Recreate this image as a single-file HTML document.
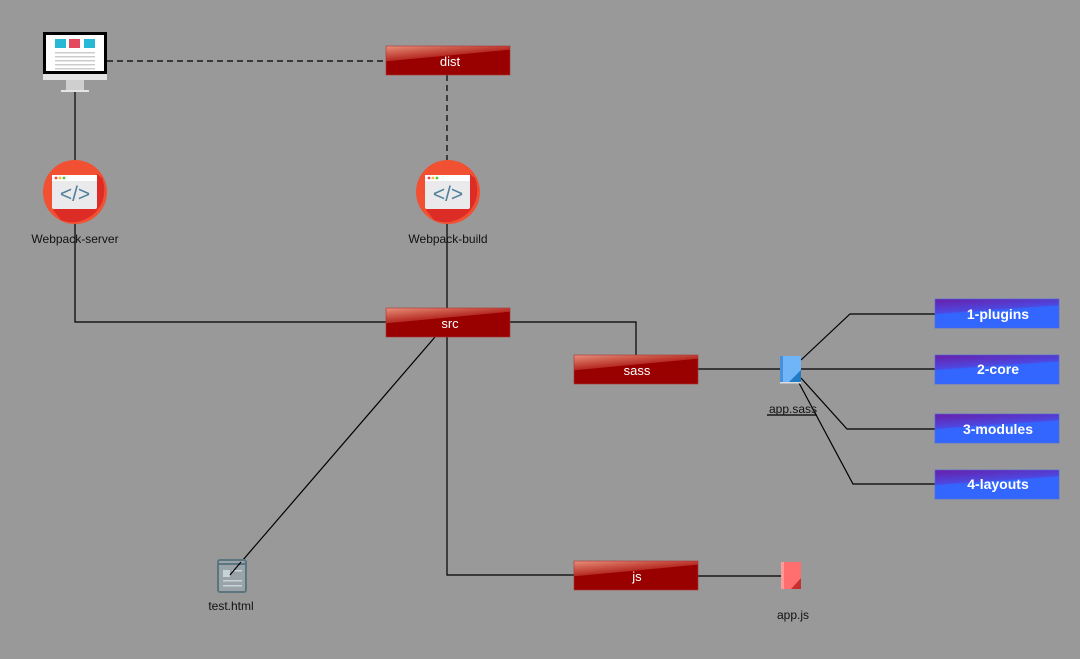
<!DOCTYPE html>
<html><head><meta charset="utf-8"><style>
html,body{margin:0;padding:0;background:#999999;}
svg{display:block;}
text{font-family:"Liberation Sans",sans-serif;}
</style></head><body>
<svg width="1080" height="659" viewBox="0 0 1080 659" xmlns="http://www.w3.org/2000/svg">
<defs>
<linearGradient id="rg" x1="0" y1="0" x2="0.4" y2="1">
<stop offset="0" stop-color="#e8907a"/><stop offset="0.45" stop-color="#b52a22"/><stop offset="0.46" stop-color="#990000"/><stop offset="1" stop-color="#990000"/>
</linearGradient>
<linearGradient id="bg" x1="0" y1="0" x2="0.3" y2="1">
<stop offset="0" stop-color="#6a1ea8"/><stop offset="0.45" stop-color="#4d48e0"/><stop offset="0.5" stop-color="#3366ff"/><stop offset="1" stop-color="#3366ff"/>
</linearGradient>
<g id="code">
<circle cx="0" cy="0" r="32" fill="#f25033"/>
<path d="M22,-18 L27,-14 A32,32 0 0 1 -14,28 L-22,18 Z" fill="#dd2c25"/>
<rect x="-23" y="-17" width="45" height="34" rx="2" fill="#eaeaec"/>
<rect x="-23" y="-17" width="45" height="6" fill="#fff"/>
<circle cx="-19" cy="-14" r="1.4" fill="#e44"/><circle cx="-15" cy="-14" r="1.4" fill="#fb3"/><circle cx="-11" cy="-14" r="1.4" fill="#4c4"/>
<text x="0" y="9" text-anchor="middle" font-size="21" fill="#4f7f99">&lt;/&gt;</text>
</g>
</defs>
<g stroke="#000" stroke-width="1.2" fill="none">
<line x1="107" y1="61" x2="386" y2="61" stroke-dasharray="6,4"/>
<line x1="447" y1="75" x2="447" y2="160" stroke-dasharray="6,4"/>
<line x1="75" y1="92" x2="75" y2="160"/>
<polyline points="75,224 75,322 386,322"/>
<line x1="447" y1="224" x2="447" y2="308"/>
<polyline points="510,322 636,322 636,355"/>
<line x1="698" y1="369" x2="781" y2="369"/>
<polyline points="801,360 850,314 935,314"/>
<line x1="801" y1="369" x2="935" y2="369"/>
<polyline points="801,378 847,429 935,429"/>
<polyline points="799,383 853,484 935,484"/>
<polyline points="447,337 447,575 574,575"/>
<line x1="698" y1="576" x2="782" y2="576"/>
<line x1="435" y1="337" x2="230" y2="575"/>
<line x1="767" y1="415" x2="817" y2="415"/>
</g>
<rect x="43" y="32" width="64" height="42" fill="#000"/>
<rect x="46" y="35" width="58" height="36" fill="#fff"/>
<rect x="55" y="39" width="11" height="9" fill="#27b8d6"/>
<rect x="69" y="39" width="11" height="9" fill="#e34a5f"/>
<rect x="84" y="39" width="11" height="9" fill="#27b8d6"/>
<g fill="#ccc"><rect x="55" y="52" width="40" height="1.5"/><rect x="55" y="56" width="40" height="1.5"/><rect x="55" y="60" width="40" height="1.5"/><rect x="55" y="64" width="40" height="1.5"/><rect x="55" y="68" width="40" height="1.5"/></g>
<rect x="43" y="74" width="64" height="6" fill="#e4e4e4"/>
<rect x="66" y="80" width="18" height="10" fill="#cfcfcf"/>
<rect x="61" y="90" width="28" height="2" fill="#e4e4e4"/>
<g font-size="13" fill="#fff" text-anchor="middle">
<rect x="386" y="46" width="124" height="29" fill="url(#rg)" stroke="#a33" stroke-width="0.6"/><text x="450" y="66" fill="#fff">dist</text>
<rect x="386" y="308" width="124" height="29" fill="url(#rg)" stroke="#a33" stroke-width="0.6"/><text x="450" y="328" fill="#fff">src</text>
<rect x="574" y="355" width="124" height="29" fill="url(#rg)" stroke="#a33" stroke-width="0.6"/><text x="637" y="375" fill="#fff">sass</text>
<rect x="574" y="561" width="124" height="29" fill="url(#rg)" stroke="#a33" stroke-width="0.6"/><text x="637" y="581" fill="#fff">js</text>
</g>
<g font-size="14" font-weight="bold" text-anchor="middle">
<rect x="935" y="299" width="124" height="29" fill="url(#bg)" stroke="#4a6ae0" stroke-width="0.6"/><text x="998" y="319" fill="#fff">1-plugins</text>
<rect x="935" y="355" width="124" height="29" fill="url(#bg)" stroke="#4a6ae0" stroke-width="0.6"/><text x="998" y="374" fill="#fff">2-core</text>
<rect x="935" y="414" width="124" height="29" fill="url(#bg)" stroke="#4a6ae0" stroke-width="0.6"/><text x="998" y="434" fill="#fff">3-modules</text>
<rect x="935" y="470" width="124" height="29" fill="url(#bg)" stroke="#4a6ae0" stroke-width="0.6"/><text x="998" y="489" fill="#fff">4-layouts</text>
</g>
<use href="#code" x="75" y="192"/>
<use href="#code" x="448" y="192"/>
<g font-size="12" fill="#111" text-anchor="middle">
<text x="75" y="243">Webpack-server</text>
<text x="448" y="243">Webpack-build</text>
<text x="793" y="413">app.sass</text>
<text x="793" y="619">app.js</text>
<text x="231" y="610">test.html</text>
</g>
<rect x="780" y="356" width="21" height="26" fill="#6fb5f7"/>
<rect x="780" y="356" width="3" height="26" fill="#4a90d9"/>
<polygon points="801,370 801,382 789,382" fill="#1e7bc4"/>
<rect x="780" y="382" width="21" height="1.5" fill="#ddd"/>
<rect x="781" y="562" width="20" height="27" fill="#ff6f6f"/>
<rect x="781" y="562" width="3" height="27" fill="#ff9a9a"/>
<polygon points="801,578 801,589 791,589" fill="#c83030"/>
<rect x="218" y="560" width="28" height="32" rx="2" fill="#9aa4a8" stroke="#5b7480" stroke-width="2"/>
<rect x="219" y="563" width="26" height="2" fill="#5b7480"/>
<rect x="223" y="570" width="7" height="7" fill="#c6d3d9"/>
<g fill="#c6d3d9"><rect x="232" y="570" width="10" height="1.5"/><rect x="223" y="580" width="19" height="1.5"/><rect x="223" y="585" width="19" height="1.5"/></g>
<line x1="241" y1="562" x2="230" y2="575" stroke="#000" stroke-width="1.2"/>
</svg>
</body></html>
